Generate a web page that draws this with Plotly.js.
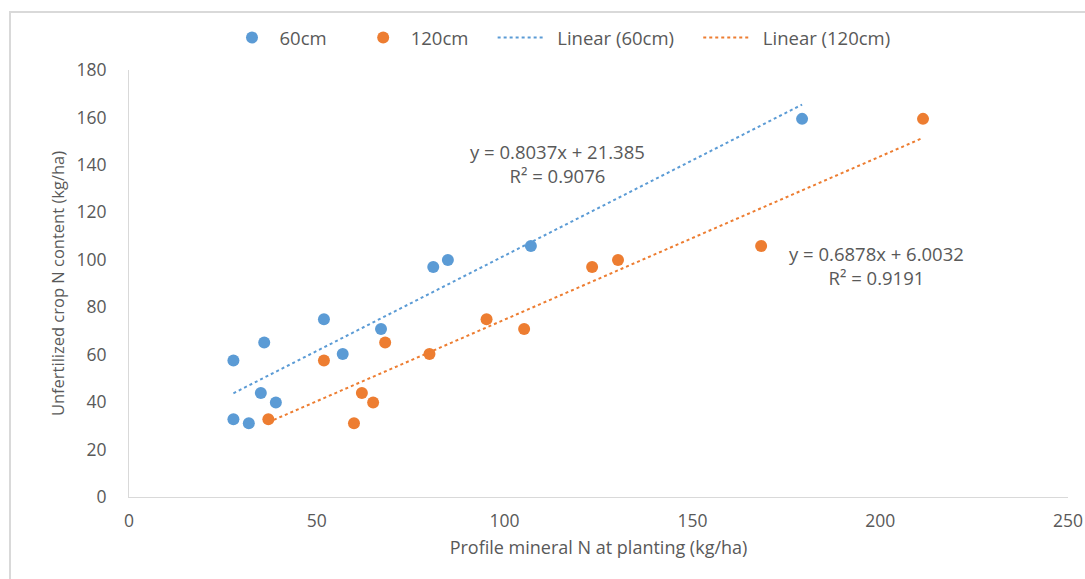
<!DOCTYPE html>
<html>
<head>
<meta charset="utf-8">
<script src="https://cdn.plot.ly/plotly-3.0.1.min.js"></script>
<style>
  html, body { margin: 0; padding: 0; background: #fff; }
  #wrap { position: relative; width: 1085px; height: 579px; }
  #chart { position: absolute; left: 0; top: 0; width: 1085px; height: 579px; }
  #frame { position: absolute; left: 9px; top: 11px; width: 1090px; height: 580px;
           border-left: 2px solid #d9d9d9; border-top: 2px solid #d9d9d9; pointer-events: none; }
</style>
</head>
<body>
<div id="wrap">
  <div id="chart"></div>
  <div id="frame"></div>
</div>
<script>
// Data
const x60 = [27.8, 36.0, 51.9, 56.9, 67.1, 81.0, 84.9, 107.0, 179.2, 35.1, 39.1, 27.8, 31.9];
const y60 = [57.5, 65.1, 74.9, 60.3, 70.8, 97.0, 99.9, 105.8, 159.4, 43.8, 39.8, 32.8, 31.1];
const x120 = [51.9, 68.2, 95.2, 80.0, 105.2, 123.3, 130.2, 168.3, 211.4, 62.0, 65.0, 37.1, 59.9];
const y120 = [57.5, 65.1, 74.9, 60.3, 70.8, 97.0, 99.9, 105.8, 159.4, 43.8, 39.8, 32.8, 31.1];

// Trendline coefficients as printed on the chart: [slope, intercept]
const fit60 = [0.8037, 21.385];
const fit120 = [0.6878, 6.0032];
const eqText60 = ["y = 0.8037x + 21.385", "R² = 0.9076"];
const eqText120 = ["y = 0.6878x + 6.0032", "R² = 0.9191"];

const seriesNames = ["60cm", "120cm", "Linear (60cm)", "Linear (120cm)"];

const xTicks = [0, 50, 100, 150, 200, 250];
const yTicks = [0, 20, 40, 60, 80, 100, 120, 140, 160, 180];

function trend(xs, c) {
  const lo = Math.min(...xs), hi = Math.max(...xs);
  return { x: [lo, hi], y: [c[0] * lo + c[1], c[0] * hi + c[1]] };
}
const t60 = trend(x60, fit60);
const t120 = trend(x120, fit120);

const BLUE = '#5B9BD5', ORANGE = '#ED7D31', TXT = '#595959';
const FONT = 'Open Sans, Liberation Sans, sans-serif';
const pad = n => '\u00a0'.repeat(n);

const traces = [
  { x: x60, y: y60, type: 'scatter', mode: 'markers', name: seriesNames[0] + pad(5),
    marker: { color: BLUE, size: 12 } },
  { x: x120, y: y120, type: 'scatter', mode: 'markers', name: seriesNames[1] + pad(4),
    marker: { color: ORANGE, size: 12 } },
  { x: t60.x, y: t60.y, type: 'scatter', mode: 'lines', name: pad(2) + seriesNames[2] + pad(4),
    line: { color: BLUE, width: 2, dash: 'dot' } },
  { x: t120.x, y: t120.y, type: 'scatter', mode: 'lines', name: pad(2) + seriesNames[3],
    line: { color: ORANGE, width: 2, dash: 'dot' } }
];

const layout = {
  width: 1085, height: 579,
  margin: { l: 129, r: 17, t: 70, b: 82 },
  paper_bgcolor: 'rgba(0,0,0,0)', plot_bgcolor: 'rgba(0,0,0,0)',
  font: { family: FONT, size: 17, color: TXT },
  showlegend: true,
  legend: { orientation: 'h', x: 0.1017, xanchor: 'left', y: 1.075, yanchor: 'middle',
            font: { size: 18.5, color: TXT }, itemwidth: 45, traceorder: 'normal' },
  xaxis: {
    range: [0, 250], tickvals: xTicks, ticktext: xTicks.map(String),
    showgrid: false, zeroline: false, showline: true, linecolor: '#d9d9d9', linewidth: 1,
    ticks: '', tickfont: { size: 17.5, color: TXT }, ticklabelstandoff: 8,
    title: { text: 'Profile mineral N at planting (kg/ha)', font: { size: 18, color: TXT }, standoff: 10 }
  },
  yaxis: {
    range: [0, 180], tickvals: yTicks, ticktext: yTicks.map(String),
    showgrid: false, zeroline: false, showline: true, linecolor: '#d9d9d9', linewidth: 1,
    ticks: '', tickfont: { size: 17.5, color: TXT }, ticklabelstandoff: 18,
    title: { text: 'Unfertilized crop N content (kg/ha)', font: { size: 16.5, color: TXT }, standoff: 7 }
  },
  annotations: [
    { x: 114, y: 140.4, xref: 'x', yref: 'y', showarrow: false,
      text: eqText60.join('<br>'), font: { size: 18.5, color: TXT }, align: 'center' },
    { x: 198.9, y: 97.8, xref: 'x', yref: 'y', showarrow: false,
      text: eqText120.join('<br>'), font: { size: 18.5, color: TXT }, align: 'center' }
  ]
};

Plotly.newPlot('chart', traces, layout, { displayModeBar: false, staticPlot: true });
</script>
</body>
</html>
